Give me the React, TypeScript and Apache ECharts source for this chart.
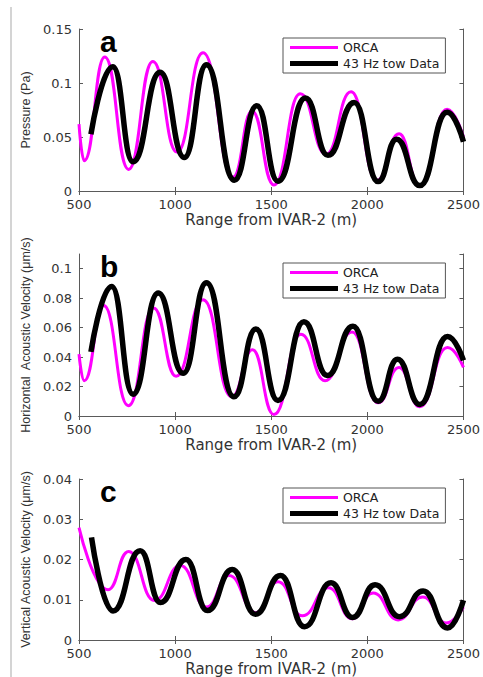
import React, { useEffect, useRef } from "react";
import * as echarts from "echarts";

// ---- Data ----
const rangeTicks = [500, 1000, 1500, 2000, 2500];

// Panel a: Pressure (Pa)
const pOrcaX = [500, 527, 634, 758, 884, 1010, 1145, 1302, 1400, 1514, 1651, 1785, 1915, 2050, 2165, 2271, 2415, 2500];
const pOrcaY = [0.062, 0.028, 0.124, 0.02, 0.12, 0.036, 0.128, 0.013, 0.074, 0.0056, 0.09, 0.034, 0.092, 0.01, 0.053, 0.005, 0.0756, 0.05];
const pDataX = [562, 676, 781, 922, 1048, 1163, 1308, 1425, 1535, 1678, 1795, 1932, 2056, 2152, 2273, 2415, 2500];
const pDataY = [0.0525, 0.115, 0.027, 0.11, 0.031, 0.117, 0.01, 0.079, 0.009, 0.086, 0.033, 0.082, 0.0087, 0.048, 0.005, 0.073, 0.0457];

// Panel b: Horizontal acoustic velocity (um/s)
const hOrcaX = [500, 527, 628, 757, 888, 1005, 1145, 1295, 1402, 1514, 1654, 1780, 1920, 2056, 2165, 2272, 2417, 2500];
const hOrcaY = [0.042, 0.024, 0.075, 0.007, 0.0734, 0.027, 0.079, 0.013, 0.045, 0.001, 0.0555, 0.024, 0.057, 0.009, 0.033, 0.0063, 0.0465, 0.033];
const hDataX = [562, 670, 781, 912, 1042, 1163, 1306, 1420, 1535, 1670, 1792, 1925, 2056, 2157, 2273, 2417, 2500];
const hDataY = [0.0435, 0.088, 0.0148, 0.0835, 0.029, 0.0905, 0.013, 0.059, 0.0105, 0.064, 0.0275, 0.061, 0.01, 0.0385, 0.0078, 0.054, 0.0378];

// Panel c: Vertical acoustic velocity (um/s)
const vOrcaX = [500, 651, 758, 893, 1027, 1163, 1280, 1420, 1535, 1662, 1797, 1922, 2030, 2160, 2288, 2410, 2500];
const vOrcaY = [0.0279, 0.0125, 0.022, 0.0098, 0.0185, 0.0082, 0.016, 0.0068, 0.0145, 0.006, 0.013, 0.0053, 0.0117, 0.005, 0.0107, 0.0042, 0.0082];
const vDataX = [565, 677, 818, 924, 1056, 1168, 1297, 1418, 1548, 1673, 1811, 1923, 2040, 2168, 2290, 2417, 2500];
const vDataY = [0.0255, 0.0072, 0.0222, 0.0093, 0.02, 0.0073, 0.0175, 0.0064, 0.016, 0.0033, 0.0142, 0.0056, 0.0137, 0.0058, 0.0122, 0.003, 0.0099];

const seriesNames = ["ORCA", "43 Hz tow Data"];
const panelLetters = ["a", "b", "c"];
const yNames = ["Pressure (Pa)", "Horizontal  Acoustic Velocity (μm/s)", "Vertical Acoustic Velocity (μm/s)"];
const yMax = [0.15, 0.11, 0.04];
const yStep = [0.05, 0.02, 0.01];
const xName = "Range from IVAR-2 (m)";

const zip = (xs: number[], ys: number[]) => xs.map((x, i) => [x, ys[i]]);

const ORCA_COLOR = "#ff00ff";
const DATA_COLOR = "#000000";
const FRAME = "#5a5a5a";
const TICKFONT = "DejaVu Sans";

export default function App() {
  const ref = useRef<HTMLDivElement>(null);
  useEffect(() => {
    if (!ref.current) return;
    const chart = echarts.init(ref.current, null, { renderer: "svg" });
    const tops = [29, 254, 479];
    const plotH = 162;
    const left = 79;
    const right = 17;
    const panels = [
      { orca: zip(pOrcaX, pOrcaY), data: zip(pDataX, pDataY) },
      { orca: zip(hOrcaX, hOrcaY), data: zip(hDataX, hDataY) },
      { orca: zip(vOrcaX, vOrcaY), data: zip(vDataX, vDataY) },
    ];

    const grid: any[] = [];
    const xAxis: any[] = [];
    const yAxis: any[] = [];
    const series: any[] = [];
    const legend: any[] = [];
    const graphic: any[] = [
      {
        type: "line",
        shape: { x1: 11, y1: 7, x2: 11, y2: 677 },
        style: { stroke: "#d4d4d4", lineWidth: 2 },
        silent: true,
      },
    ];

    panels.forEach((p, i) => {
      grid.push({ left, right, top: tops[i], height: plotH, show: false });
      const step = yStep[i];
      const fmt = (v: number) => {
        const k = Math.round(v / step);
        if (Math.abs(k * step - v) > 1e-9) return "";
        return String(parseFloat(v.toFixed(4)));
      };
      // bottom x axis
      xAxis.push({
        type: "value",
        gridIndex: i,
        position: "bottom",
        min: 500,
        max: 2500,
        interval: 500,
        name: xName,
        nameLocation: "middle",
        nameGap: 21,
        nameTextStyle: { fontFamily: TICKFONT, fontSize: 15, color: "#333" },
        axisLine: { show: true, lineStyle: { color: FRAME, width: 1 } },
        axisTick: { show: true, inside: true, length: 4, lineStyle: { color: FRAME } },
        axisLabel: {
          margin: 7,
          fontFamily: TICKFONT,
          fontSize: 13,
          color: "#333",
          formatter: (v: number) => (rangeTicks.includes(v) ? String(v) : ""),
        },
        splitLine: { show: false },
      });
      // top x axis (frame)
      xAxis.push({
        type: "value",
        gridIndex: i,
        position: "top",
        min: 500,
        max: 2500,
        interval: 500,
        axisLine: { show: true, lineStyle: { color: FRAME, width: 1 } },
        axisTick: { show: true, inside: true, length: 4, lineStyle: { color: FRAME } },
        axisLabel: { show: false },
        splitLine: { show: false },
      });
      yAxis.push({
        type: "value",
        gridIndex: i,
        position: "left",
        min: 0,
        max: yMax[i],
        interval: step,
        name: yNames[i],
        nameLocation: "middle",
        nameGap: 47,
        nameTextStyle: { fontFamily: "Liberation Sans", fontSize: 12.5, color: "#333" },
        axisLine: { show: true, lineStyle: { color: FRAME, width: 1 } },
        axisTick: { show: true, inside: true, length: 4, lineStyle: { color: FRAME } },
        axisLabel: { margin: 7, fontFamily: TICKFONT, fontSize: 13, lineHeight: 13, color: "#333", formatter: fmt, showMaxLabel: i !== 1 },
        splitLine: { show: false },
      });
      yAxis.push({
        type: "value",
        gridIndex: i,
        position: "right",
        min: 0,
        max: yMax[i],
        interval: step,
        axisLine: { show: true, lineStyle: { color: FRAME, width: 1 } },
        axisTick: { show: true, inside: true, length: 4, lineStyle: { color: FRAME } },
        axisLabel: { show: false },
        splitLine: { show: false },
      });
      series.push({
        type: "line",
        name: seriesNames[0],
        xAxisIndex: i * 2,
        yAxisIndex: i * 2,
        data: p.orca,
        smooth: 0.5,
        smoothMonotone: "x",
        symbol: "none",
        showSymbol: false,
        lineStyle: { color: ORCA_COLOR, width: 3 },
        itemStyle: { color: ORCA_COLOR },
        z: 2,
      });
      series.push({
        type: "line",
        name: seriesNames[1],
        xAxisIndex: i * 2,
        yAxisIndex: i * 2,
        data: p.data,
        smooth: 0.5,
        smoothMonotone: "x",
        symbol: "none",
        showSymbol: false,
        lineStyle: { color: DATA_COLOR, width: 5.5 },
        itemStyle: { color: DATA_COLOR },
        z: 3,
      });
      legend.push({
        orient: "vertical",
        left: 283,
        top: tops[i] + 9,
        itemWidth: 48,
        itemHeight: 11,
        itemGap: 3,
        padding: [3, 6, 3, 7],
        backgroundColor: "#ffffff",
        borderColor: "#555",
        borderWidth: 1,
        borderRadius: 0,
        selectedMode: false,
        textStyle: { fontFamily: TICKFONT, fontSize: 12.5, color: "#222" },
        data: [
          { name: seriesNames[0], icon: "path://M0,0H48V3H0Z", itemStyle: { color: ORCA_COLOR, borderWidth: 0 } },
          { name: seriesNames[1], icon: "path://M0,0H48V5H0Z", itemStyle: { color: DATA_COLOR, borderWidth: 0 } },
        ],
      });
      graphic.push({
        type: "text",
        left: 100,
        top: tops[i] - 3,
        style: {
          text: panelLetters[i],
          font: "bold 30px 'Liberation Sans', Arial, sans-serif",
          fill: "#000",
        },
        z: 10,
      });
    });

    chart.setOption({
      animation: false,
      backgroundColor: "#ffffff",
      grid,
      xAxis,
      yAxis,
      series,
      legend,
      graphic,
    });
    return () => chart.dispose();
  }, []);
  return (
    <div
      ref={ref}
      style={{ position: "absolute", left: 0, top: 0, width: 483, height: 677 }}
    />
  );
}
